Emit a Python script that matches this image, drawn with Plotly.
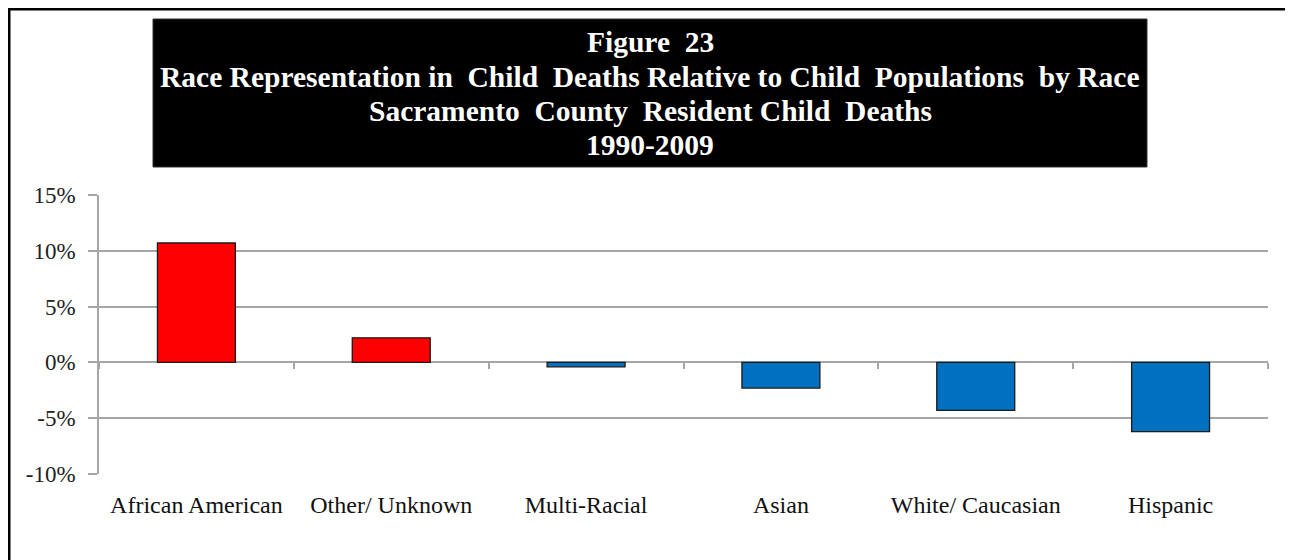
import plotly.graph_objects as go

# data
categories = ["African American", "Other/ Unknown", "Multi-Racial", "Asian", "White/ Caucasian", "Hispanic"]
diff_pct = [10.7, 2.2, -0.4, -2.3, -4.3, -6.2]
y_ticks = [-10, -5, 0, 5, 10, 15]
y_tick_text = ["-10%", "-5%", "0%", "5%", "10%", "15%"]

title_lines = [
    "Figure  23",
    "Race Representation in  Child  Deaths Relative to Child  Populations  by Race",
    "Sacramento  County  Resident Child  Deaths",
    "1990-2009",
]

RED = "#FF0000"
BLUE = "#0070C0"
GRID = "#A6A6A6"
SERIF = "Liberation Serif, Times New Roman, serif"

# page body has an 8px margin, so the figure is sized/laid out 8px smaller
W, H = 1285, 552
L, R, T, B = 91, 25, 187, 86
plot_w, plot_h = W - L - R, H - T - B


def px_x(x):
    return (x - L) / plot_w


def px_y(y):
    return (H - B - y) / plot_h


bar_colors = [RED if v > 0 else BLUE for v in diff_pct]

fig = go.Figure()
fig.add_trace(go.Bar(
    x=categories,
    y=diff_pct,
    marker=dict(color=bar_colors, line=dict(color="#1a1a1a", width=1.3)),
    showlegend=False,
    hoverinfo="x+y",
))
# invisible copy on x2 so the boundary ticks along the zero line get drawn
fig.add_trace(go.Scatter(
    x=categories, y=diff_pct, xaxis="x2", mode="markers",
    marker=dict(opacity=0), showlegend=False, hoverinfo="skip",
))

y_range = [y_ticks[0], y_ticks[-1]]
zero_pos = (0 - y_range[0]) / (y_range[1] - y_range[0])

title_y = [34, 69, 103, 137]
annotations = [
    dict(text=line, xref="paper", yref="paper",
         x=px_x(642), y=px_y(yy), xanchor="center", yanchor="middle",
         showarrow=False,
         font=dict(family=SERIF, size=29.5, color="white", weight="bold"))
    for line, yy in zip(title_lines, title_y)
]

fig.update_layout(
    width=W,
    height=H,
    margin=dict(l=L, r=R, t=T, b=B),
    paper_bgcolor="white",
    plot_bgcolor="white",
    bargap=0.6,
    xaxis=dict(
        type="category",
        categoryarray=categories,
        showgrid=False,
        zeroline=False,
        showline=False,
        ticks="",
        tickfont=dict(family=SERIF, size=24, color="#111111"),
        ticklabelstandoff=14,
    ),
    xaxis2=dict(
        type="category",
        categoryarray=categories,
        overlaying="x",
        matches="x",
        anchor="free",
        position=zero_pos,
        side="bottom",
        showticklabels=False,
        showgrid=False,
        zeroline=False,
        showline=False,
        ticks="outside",
        tickson="boundaries",
        ticklen=6,
        tickwidth=1.5,
        tickcolor=GRID,
    ),
    yaxis=dict(
        range=y_range,
        tickvals=y_ticks,
        ticktext=y_tick_text,
        showgrid=True,
        gridcolor=GRID,
        gridwidth=1.5,
        zeroline=True,
        zerolinecolor=GRID,
        zerolinewidth=1.5,
        showline=True,
        linecolor=GRID,
        linewidth=1.5,
        ticks="outside",
        ticklen=9,
        tickwidth=1.5,
        tickcolor=GRID,
        tickfont=dict(family=SERIF, size=23, color="#222222"),
        ticklabelstandoff=8,
    ),
    shapes=[
        # outer frame
        dict(type="rect", xref="paper", yref="paper",
             x0=px_x(1), x1=px_x(1283), y0=-0.40, y1=px_y(1),
             line=dict(color="black", width=3), fillcolor="rgba(0,0,0,0)", layer="above"),
        # black title box
        dict(type="rect", xref="paper", yref="paper",
             x0=px_x(145), x1=px_x(1139), y0=px_y(159), y1=px_y(11),
             line=dict(color="#333333", width=1), fillcolor="black", layer="below"),
    ],
    annotations=annotations,
)

fig.write_html("out.html")
